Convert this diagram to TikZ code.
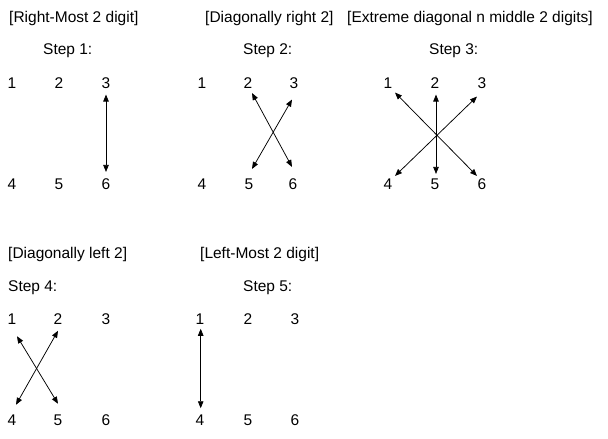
\documentclass[tikz,border=0pt]{standalone}
\usepackage{fontspec}
\setmainfont{Liberation Sans}
\usetikzlibrary{arrows.meta}
\begin{document}
\begin{tikzpicture}[x=1pt,y=-1pt,
  lbl/.style={anchor=base west,inner sep=0pt,font=\fontsize{15.5}{18}\selectfont},
  dig/.style={inner xsep=1pt,inner ysep=6pt,text height=11.1pt,text depth=0pt,font=\fontsize{15.5}{18}\selectfont},
  dbl/.style={line width=0.75pt,{Triangle[length=7pt,width=5.5pt]}-{Triangle[length=7pt,width=5.5pt]}}]
\useasboundingbox (0,0) rectangle (608,439);
% titles
\node[lbl] (t1) at (9,22) {[Right-Most 2 digit]};
\node[lbl] (s1) at (43,54.5) {Step 1:};
\node[lbl] (t2) at (205,22) {[Diagonally right 2]};
\node[lbl] (s2) at (243,54.5) {Step 2:};
\node[lbl] (t3) at (347,22) {[Extreme diagonal n middle 2 digits]};
\node[lbl] (s3) at (429,54.5) {Step 3:};
\node[lbl] (t4) at (8,258) {[Diagonally left 2]};
\node[lbl] (s4) at (8,291) {Step 4:};
\node[lbl] (t5) at (200,258) {[Left-Most 2 digit]};
\node[lbl] (s5) at (243,291) {Step 5:};
% panel 1
\node[dig] (a1) at (12,82.8) {1};
\node[dig] (a2) at (59,82.8) {2};
\node[dig] (a3) at (106,82.8) {3};
\node[dig] (a4) at (12,183.7) {4};
\node[dig] (a5) at (59,183.7) {5};
\node[dig] (a6) at (106,183.7) {6};
\draw[dbl] (a3.south) -- (a6.north);
% panel 2
\node[dig] (b1) at (202,82.8) {1};
\node[dig] (b2) at (248,82.8) {2};
\node[dig] (b3) at (294,82.8) {3};
\node[dig] (b4) at (202,183.7) {4};
\node[dig] (b5) at (249,183.7) {5};
\node[dig] (b6) at (293,183.7) {6};
\draw[dbl] ([xshift=4pt,yshift=1.5pt]b2.south) -- ([xshift=-1pt,yshift=5pt]b6.north);
\draw[dbl] ([xshift=-2pt,yshift=-5pt]b3.south) -- ([xshift=3pt,yshift=3pt]b5.north);
% panel 3
\node[dig] (c1) at (388,82.8) {1};
\node[dig] (c2) at (435,82.8) {2};
\node[dig] (c3) at (482,82.8) {3};
\node[dig] (c4) at (388,183.7) {4};
\node[dig] (c5) at (435,183.7) {5};
\node[dig] (c6) at (482,183.7) {6};
\draw[dbl] ([xshift=1pt]c2.south) -- ([xshift=1pt,yshift=-2pt]c5.north);
\draw[dbl] ([xshift=7pt,yshift=2pt]c1.south) -- ([xshift=-5pt,yshift=-4pt]c6.north);
\draw[dbl] ([xshift=-5pt,yshift=-2pt]c3.south) -- ([xshift=7pt,yshift=-4pt]c4.north);
% panel 4
\node[dig] (d1) at (12,319) {1};
\node[dig] (d2) at (58,319) {2};
\node[dig] (d3) at (106,319) {3};
\node[dig] (d4) at (12,420) {4};
\node[dig] (d5) at (58,420) {5};
\node[dig] (d6) at (106,420) {6};
\draw[dbl] ([xshift=5pt,yshift=-5.5pt]d1.south) -- ([yshift=4.5pt]d5.north);
\draw[dbl] (d2.south) -- ([xshift=4pt,yshift=3.5pt]d4.north);
% panel 5
\node[dig] (e1) at (200,319) {1};
\node[dig] (e2) at (248,319) {2};
\node[dig] (e3) at (295,319) {3};
\node[dig] (e4) at (200,420) {4};
\node[dig] (e5) at (248,420) {5};
\node[dig] (e6) at (295,420) {6};
\draw[dbl] ([xshift=0.7pt,yshift=2pt]e1.south) -- ([xshift=0.7pt]e4.north);
\end{tikzpicture}
\end{document}
